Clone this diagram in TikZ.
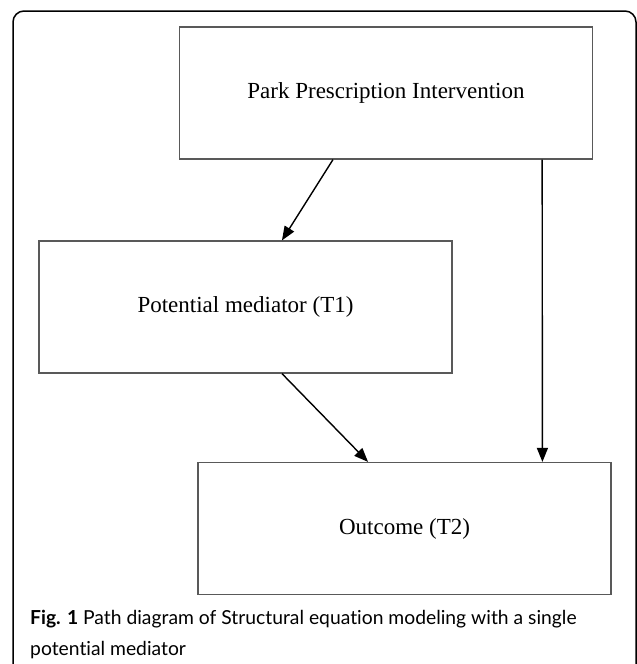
\documentclass[tikz,border=0pt]{standalone}
\usepackage{fontspec}
\setmainfont{Liberation Serif}
\newfontfamily\capfont[Ligatures=NoCommon]{Lato}
\usepackage{tikz}
\usetikzlibrary{arrows.meta}
\usetikzlibrary{calc}
\tikzstyle{box} = [rectangle, draw=black!65, line width=1.2pt, minimum width=413pt, minimum height=132pt, text centered, font=\fontsize{23}{27}\selectfont]
\tikzstyle{arrow} = [line width=1.4pt, -{Triangle[length=14pt,width=11pt]}]

\begin{document}
\begin{tikzpicture}[x=1pt, y=-1pt]
        \useasboundingbox (0,0) rectangle (637,664);
        \tikzstyle{caption} = [anchor=base west, align=left, inner sep=0pt, font=\capfont\fontsize{19.3}{31}\selectfont]

        \draw[line width=1.5pt, rounded corners=11pt] (13,11) rectangle (636,680);

        \node (park) at (386, 93) [box] {Park Prescription Intervention};
        \node (mediator) at (245.5, 307) [box] {Potential mediator (T1)};
        \node (outcome) at (404.5, 528.5) [box] {Outcome (T2)};

        \draw[arrow] ($(park.south west)!0.372!(park.south east)$) -- ($(mediator.north west)!0.588!(mediator.north east)$);
        \draw[arrow] ($(park.south west)!0.877!(park.south east)$) -- ($(outcome.north west)!0.833!(outcome.north east)$);
        \draw[arrow] ($(mediator.south west)!0.588!(mediator.south east)$) -- ($(outcome.north west)!0.412!(outcome.north east)$);

        \node (cap) at (30, 655) [caption] {\textbf{Fig. 1} Path diagram of Structural equation modeling with a single\\potential mediator};
    \end{tikzpicture}
\end{document}
